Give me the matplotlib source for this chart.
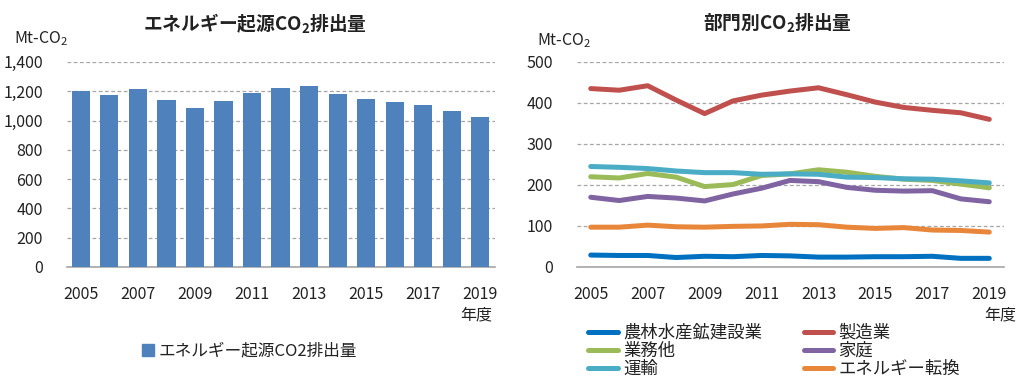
import matplotlib
matplotlib.use("Agg")
import matplotlib.pyplot as plt
from matplotlib.lines import Line2D
from matplotlib.patches import Patch

plt.rcParams["font.family"] = ["Noto Sans CJK JP", "DejaVu Sans"]
plt.rcParams["mathtext.fontset"] = "custom"
plt.rcParams["mathtext.rm"] = "Noto Sans CJK JP"
plt.rcParams["mathtext.bf"] = "Noto Sans CJK JP:bold"

years = list(range(2005, 2020))
tick_years = years[::2]

# energy-origin CO2 emissions, Mt-CO2
total = [1200, 1172, 1214, 1142, 1083, 1135, 1185, 1224, 1233, 1182, 1144, 1124, 1108, 1063, 1026]

# by sector, Mt-CO2
agri = [29, 28, 28, 23, 26, 25, 28, 27, 24, 24, 25, 25, 26, 21, 21]
manuf = [435, 431, 442, 407, 374, 405, 419, 429, 437, 420, 402, 389, 382, 376, 360]
commerce = [220, 217, 228, 219, 196, 201, 223, 227, 237, 231, 221, 214, 211, 202, 193]
household = [170, 162, 172, 168, 161, 178, 192, 211, 208, 194, 187, 185, 186, 166, 159]
transport = [245, 243, 240, 234, 230, 230, 226, 227, 226, 219, 218, 215, 214, 210, 205]
energy_conv = [97, 97, 102, 98, 97, 99, 100, 104, 103, 97, 94, 96, 90, 89, 85]

sectors = [
  ("農林水産鉱建設業", agri, "#0070C0"),
  ("製造業", manuf, "#C0504D"),
  ("業務他", commerce, "#9BBB59"),
  ("家庭", household, "#8064A2"),
  ("運輸", transport, "#4BACC6"),
  ("エネルギー転換", energy_conv, "#E8873A"),
]

GRID = "#A6A6A6"
TXT = "#222222"

fig = plt.figure(figsize=(10.24, 3.92), dpi=100)
ax1 = fig.add_axes([0.065, 0.319, 0.418, 0.523])
ax2 = fig.add_axes([0.563, 0.319, 0.417, 0.523])

x = list(range(len(years)))

# left: bar chart
ax1.bar(x, total, width=0.64, color="#4F81BD", zorder=3)
ax1.set_ylim(0, 1400)
ax1.set_yticks(range(0, 1401, 200))
ax1.set_yticklabels([f"{v:,}" for v in range(0, 1401, 200)])

# right: line chart
for name, vals, col in sectors:
  ax2.plot(x, vals, color=col, lw=3.6, solid_capstyle="round", zorder=3)
ax2.set_ylim(0, 500)
ax2.set_yticks(range(0, 501, 100))

for ax in (ax1, ax2):
  ax.set_xlim(-0.5, 14.5)
  ax.set_xticks(x[::2])
  ax.set_xticklabels([str(y) for y in tick_years])
  for s in ("top", "right", "left"):
    ax.spines[s].set_visible(False)
  ax.spines["bottom"].set_color(GRID)
  ax.spines["bottom"].set_linewidth(1.2)
  ax.yaxis.grid(True, ls=(0, (3, 2)), color=GRID, lw=0.9, zorder=0)
  ax.tick_params(length=0, labelsize=11.5, colors=TXT)
  ax.tick_params(axis="y", pad=17)
  ax.tick_params(axis="x", pad=14)

fig.text(0.249, 0.94, "エネルギー起源CO$_\\mathbf{2}$排出量", ha="center", va="center",
         fontsize=13.5, fontweight="bold", color=TXT)
fig.text(0.759, 0.94, "部門別CO$_\\mathbf{2}$排出量", ha="center", va="center",
         fontsize=13.5, fontweight="bold", color=TXT)
fig.text(0.014, 0.902, "Mt-CO$_2$", ha="left", va="center", fontsize=11.5, color=TXT)
fig.text(0.524, 0.897, "Mt-CO$_2$", ha="left", va="center", fontsize=11.5, color=TXT)
fig.text(0.481, 0.196, "年度", ha="right", va="center", fontsize=11.5, color=TXT)
fig.text(0.992, 0.196, "年度", ha="right", va="center", fontsize=11.5, color=TXT)

# legends
fig.legend(handles=[Patch(color="#4F81BD", label="エネルギー起源CO2排出量")],
           loc="center", bbox_to_anchor=(0.244, 0.104), frameon=False,
           fontsize=12, handlelength=0.7, handleheight=0.7, handletextpad=0.3,
           labelcolor=TXT)

handles = [Line2D([], [], color=col, lw=3.6, solid_capstyle="round", label=name)
           for name, vals, col in sectors]
order = [0, 2, 4, 1, 3, 5]
fig.legend(handles=[handles[i] for i in order], ncol=2,
           loc="upper left", bbox_to_anchor=(0.566, 0.196), frameon=False,
           fontsize=12.5, handlelength=1.7, handletextpad=0.3,
           columnspacing=2.4, labelspacing=0.0, borderpad=0,
           labelcolor=TXT)

fig.savefig("out.png", dpi=100)
